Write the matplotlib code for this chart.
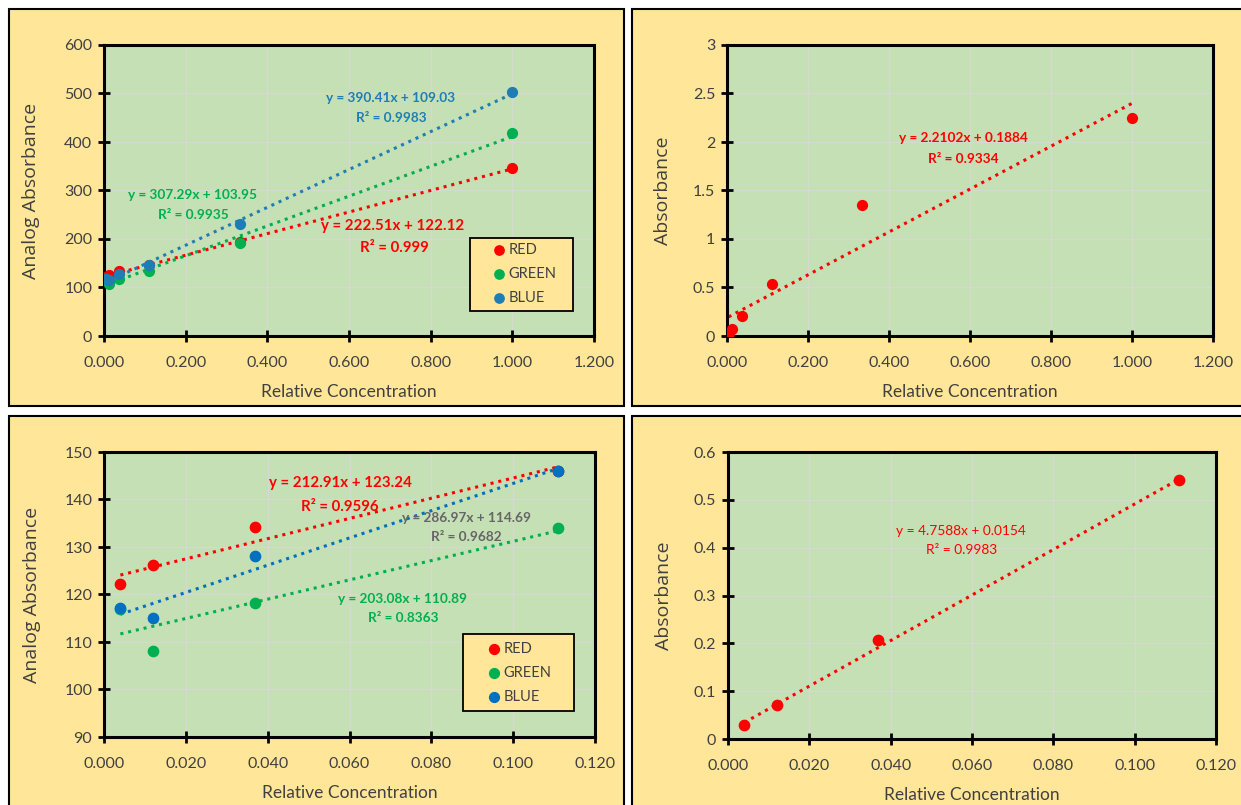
import matplotlib
matplotlib.use("Agg")
import matplotlib.pyplot as plt
from matplotlib.patches import Rectangle
import numpy as np

plt.rcParams['font.family'] = ['Lato', 'DejaVu Sans']

W, H = 1241, 805

# ---------------- data ----------------
conc_full = [0.004, 0.012, 0.037, 0.111, 0.333, 1.0]
red_full = [122.2, 126.2, 134.2, 146.0, 194.0, 347.0]
green_full = [117.0, 108.0, 118.2, 134.1, 192.0, 418.0]
blue_full = [117.2, 115.0, 128.2, 146.0, 231.0, 503.0]
abs_full = [0.03, 0.07, 0.21, 0.54, 1.35, 2.25]

conc_low = [0.004, 0.012, 0.037, 0.111]
red_low = [122.2, 126.2, 134.2, 146.0]
green_low = [117.0, 108.0, 118.2, 134.1]
blue_low = [117.2, 115.0, 128.2, 146.0]
abs_low = [0.03, 0.072, 0.208, 0.542]

# trendline coefficients (slope, intercept)
fit_full = {"RED": (222.51, 122.12), "GREEN": (307.29, 103.95), "BLUE": (390.41, 109.03)}
fit_abs_full = (2.2102, 0.1884)
fit_low = {"RED": (212.91, 123.24), "GREEN": (203.08, 110.89), "BLUE": (286.97, 114.69)}
fit_abs_low = (4.7588, 0.0154)

xticks_full = [0, 0.2, 0.4, 0.6, 0.8, 1.0, 1.2]
xticks_low = [0, 0.02, 0.04, 0.06, 0.08, 0.10, 0.12]

YELLOW = '#FFE699'
PLOTBG = '#C5E0B4'
C_RED = '#FF0000'
C_GREEN = '#00B050'
C_BLUE_T = '#1F7DB6'
C_BLUE_B = '#0070C0'
TXT = '#404040'

fig = plt.figure(figsize=(W / 100, H / 100), dpi=100)
fig.patch.set_facecolor('white')

bg = fig.add_axes([0, 0, 1, 1], zorder=-10)
bg.set_xlim(0, W)
bg.set_ylim(H, 0)
bg.axis('off')


def fx(px):
    return px / W


def fy(py):
    return 1 - py / H


def panel(x0, y0, x1, y1):
    bg.add_patch(Rectangle((x0, y0), x1 - x0, y1 - y0, facecolor=YELLOW,
                           edgecolor='black', linewidth=1.5))


panel(9, 9, 624, 406)
panel(632, 9, 1245, 406)
panel(9, 416, 624, 810)
panel(632, 416, 1245, 810)


def make_ax(x0, y0, x1, y1):
    ax = fig.add_axes([fx(x0), fy(y1), fx(x1 - x0), (y1 - y0) / H], zorder=1)
    ax.set_facecolor(PLOTBG)
    for s in ax.spines.values():
        s.set_linewidth(2.2)
        s.set_color('black')
    ax.tick_params(direction='inout', length=9, width=2, colors='black',
                   labelcolor=TXT, labelsize=11.5, pad=4)
    ax.tick_params(axis='x', pad=10)
    ax.grid(True, color='#D9D9D9', linewidth=1, alpha=0.8)
    ax.set_axisbelow(True)
    return ax


def trend(ax, x, slope, icpt, color):
    xs = np.array([min(x), max(x)])
    ax.plot(xs, slope * xs + icpt, linestyle=(0, (1, 1.6)), linewidth=2.2,
            color=color, zorder=2)


def legend(ax, handles, frame, anchor):
    # frame: (x0, y0, x1, y1) in axes fraction
    x0, y0, x1, y1 = frame
    ax.add_patch(Rectangle((x0, y0), x1 - x0, y1 - y0, transform=ax.transAxes,
                           facecolor=YELLOW, edgecolor='black', linewidth=1.3, zorder=4))
    leg = ax.legend(handles=handles, loc='center left', bbox_to_anchor=anchor,
                    frameon=False, fontsize=10.5, handletextpad=0.25, handlelength=0.8,
                    labelspacing=0.7, borderpad=0, borderaxespad=0, labelcolor=TXT)
    leg.set_zorder(5)
    return leg


def eq(x, y, s, color, size, bold=True):
    fig.text(fx(x), fy(y), s, color=color, fontsize=size,
             weight='bold' if bold else 'normal', ha='center', va='center', zorder=5)


# ---------- top-left ----------
ax1 = make_ax(104, 45, 594, 336)
h = []
for name, ys, c in [("RED", red_full, C_RED), ("GREEN", green_full, C_GREEN), ("BLUE", blue_full, C_BLUE_T)]:
    trend(ax1, conc_full, *fit_full[name], c)
for name, ys, c in [("RED", red_full, C_RED), ("GREEN", green_full, C_GREEN), ("BLUE", blue_full, C_BLUE_T)]:
    ax1.scatter(conc_full, ys, s=50, color=c, zorder=3)
for name, c in [("RED", C_RED), ("GREEN", C_GREEN), ("BLUE", C_BLUE_T)]:
    h.append(ax1.scatter([], [], s=45, color=c, label=name))
ax1.set_xlim(0, 1.2)
ax1.set_ylim(0, 600)
ax1.set_xticks(xticks_full)
ax1.set_xticklabels([f"{v:.3f}" for v in xticks_full])
ax1.set_yticks(range(0, 601, 100))
ax1.set_xlabel('Relative Concentration', fontsize=12.5, color=TXT, labelpad=10)
ax1.set_ylabel('Analog Absorbance', fontsize=14, color=TXT, family=['Open Sans', 'DejaVu Sans'], labelpad=17)
legend(ax1, h, (0.747, 0.086, 0.957, 0.337), (0.794, 0.213))

eq(391, 98, 'y = 390.41x + 109.03', C_BLUE_T, 9.8)
eq(391, 118, 'R² = 0.9983', C_BLUE_T, 9.8)
eq(193, 195, 'y = 307.29x + 103.95', C_GREEN, 9.8)
eq(193, 215, 'R² = 0.9935', C_GREEN, 9.8)
eq(393, 226, 'y = 222.51x + 122.12', C_RED, 10.8)
eq(394, 248, 'R² = 0.999', C_RED, 10.8)

# ---------- top-right ----------
ax2 = make_ax(727, 45, 1213, 336)
trend(ax2, conc_full, *fit_abs_full, C_RED)
ax2.scatter(conc_full, abs_full, s=50, color=C_RED, zorder=3)
ax2.set_xlim(0, 1.2)
ax2.set_ylim(0, 3)
ax2.set_xticks(xticks_full)
ax2.set_xticklabels([f"{v:.3f}" for v in xticks_full])
ax2.set_yticks([0, 0.5, 1, 1.5, 2, 2.5, 3])
ax2.set_yticklabels(['0', '0.5', '1', '1.5', '2', '2.5', '3'])
ax2.set_xlabel('Relative Concentration', fontsize=12.5, color=TXT, labelpad=10)
ax2.set_ylabel('Absorbance', fontsize=14, color=TXT, family=['Open Sans', 'DejaVu Sans'], labelpad=15)
eq(963, 138, 'y = 2.2102x + 0.1884', C_RED, 9.8)
eq(963, 159, 'R² = 0.9334', C_RED, 9.8)

# ---------- bottom-left ----------
ax3 = make_ax(104, 452, 595, 737)
h = []
for name, ys, c in [("RED", red_low, C_RED), ("GREEN", green_low, C_GREEN), ("BLUE", blue_low, C_BLUE_B)]:
    trend(ax3, conc_low, *fit_low[name], c)
for name, ys, c in [("GREEN", green_low, C_GREEN), ("RED", red_low, C_RED), ("BLUE", blue_low, C_BLUE_B)]:
    ax3.scatter(conc_low, ys, s=55, color=c, zorder=3)
for name, c in [("RED", C_RED), ("GREEN", C_GREEN), ("BLUE", C_BLUE_B)]:
    h.append(ax3.scatter([], [], s=50, color=c, label=name))
ax3.set_xlim(0, 0.12)
ax3.set_ylim(90, 150)
ax3.set_xticks(xticks_low)
ax3.set_xticklabels([f"{v:.3f}" for v in xticks_low])
ax3.set_yticks(range(90, 151, 10))
ax3.set_xlabel('Relative Concentration', fontsize=12.5, color=TXT, labelpad=10)
ax3.set_ylabel('Analog Absorbance', fontsize=14, color=TXT, family=['Open Sans', 'DejaVu Sans'], labelpad=17)
legend(ax3, h, (0.731, 0.091, 0.957, 0.361), (0.782, 0.225))

eq(340, 483, 'y = 212.91x + 123.24', C_RED, 10.8)
eq(340, 507, 'R² = 0.9596', C_RED, 10.8)
eq(466, 518, 'y = 286.97x + 114.69', '#666666', 9.8)
eq(466, 537, 'R² = 0.9682', '#666666', 9.8)
eq(403, 599, 'y = 203.08x + 110.89', C_GREEN, 9.8)
eq(403, 618, 'R² = 0.8363', C_GREEN, 9.8)

# ---------- bottom-right ----------
ax4 = make_ax(728, 452, 1216, 739)
trend(ax4, conc_low, *fit_abs_low, C_RED)
ax4.scatter(conc_low, abs_low, s=55, color=C_RED, zorder=3)
ax4.set_xlim(0, 0.12)
ax4.set_ylim(0, 0.6)
ax4.set_xticks(xticks_low)
ax4.set_xticklabels([f"{v:.3f}" for v in xticks_low])
ax4.set_yticks([0, 0.1, 0.2, 0.3, 0.4, 0.5, 0.6])
ax4.set_yticklabels(['0', '0.1', '0.2', '0.3', '0.4', '0.5', '0.6'])
ax4.set_xlabel('Relative Concentration', fontsize=12.5, color=TXT, labelpad=10)
ax4.set_ylabel('Absorbance', fontsize=14, color=TXT, family=['Open Sans', 'DejaVu Sans'], labelpad=15)
eq(961, 531, 'y = 4.7588x + 0.0154', C_RED, 9.9, bold=False)
eq(962, 550, 'R² = 0.9983', C_RED, 9.9, bold=False)

fig.savefig('out.png', dpi=100, facecolor=fig.get_facecolor())
